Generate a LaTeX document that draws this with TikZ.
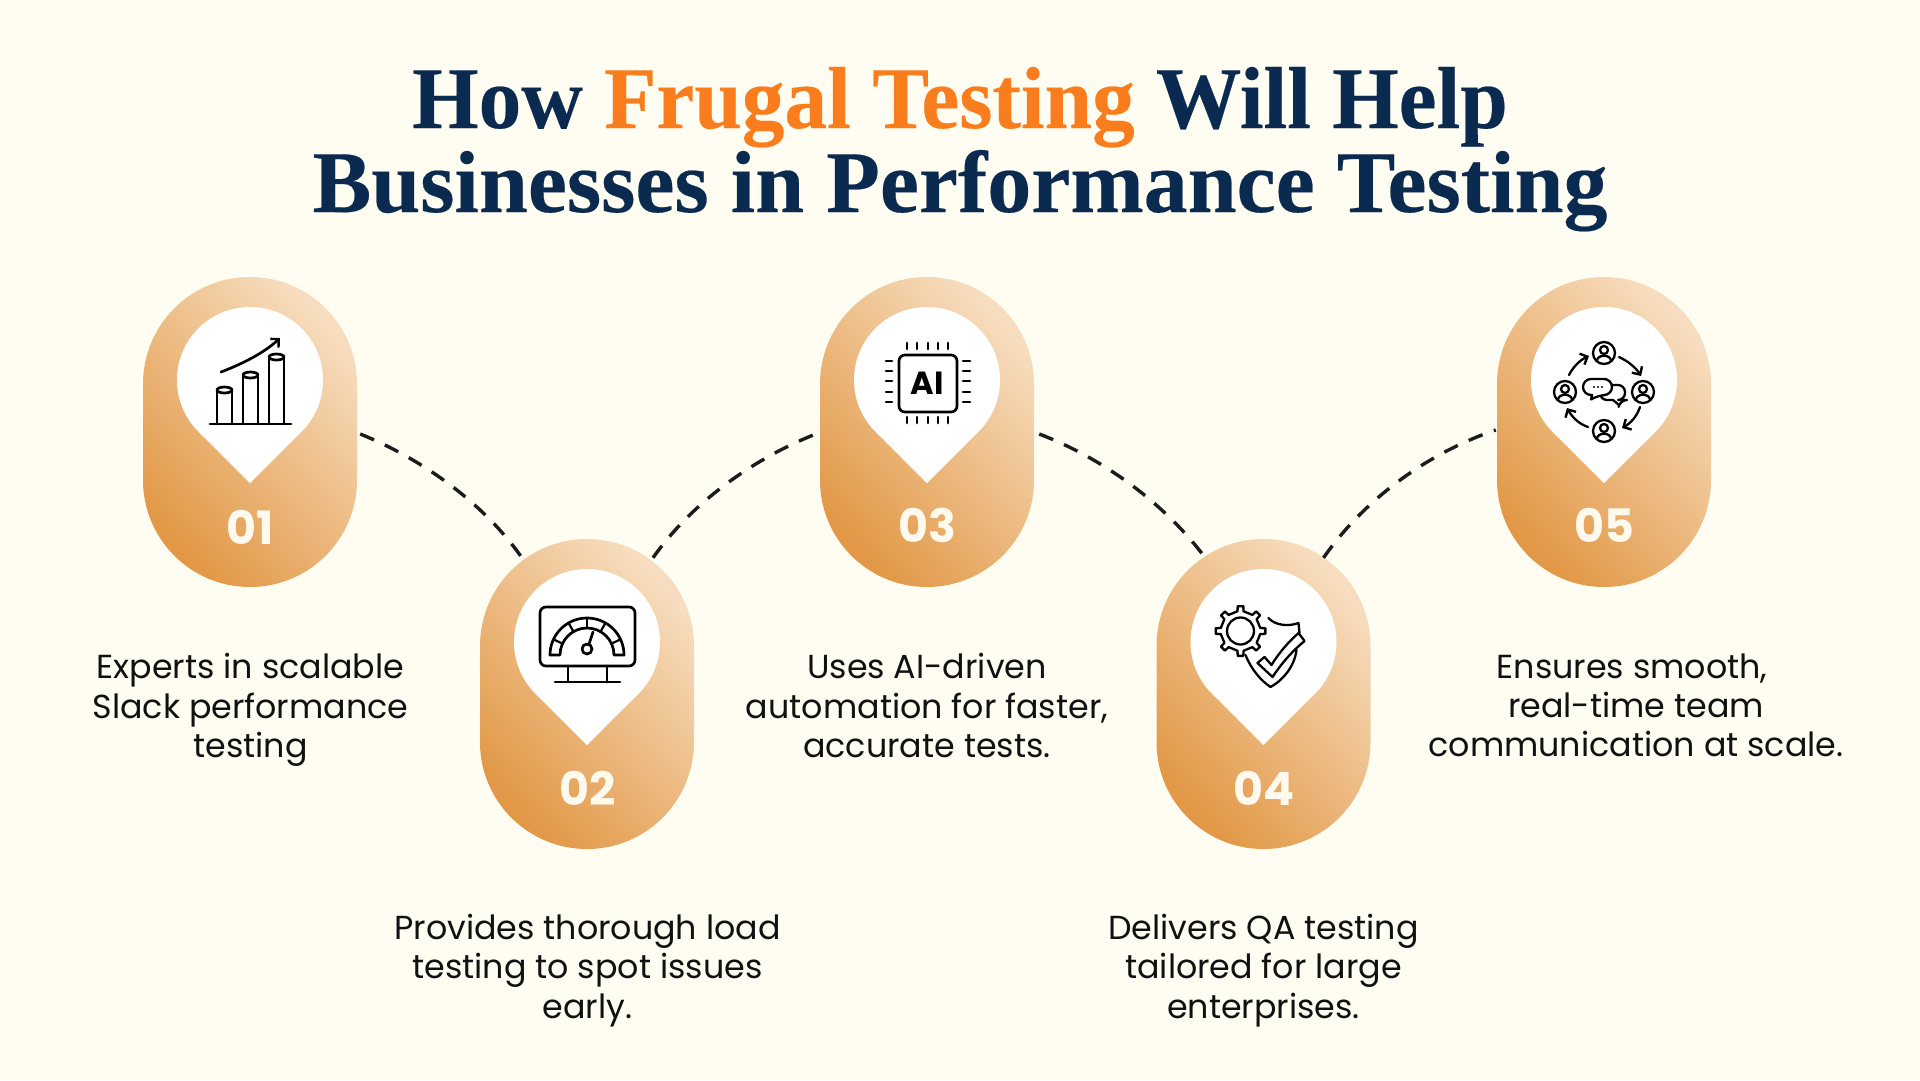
\documentclass[tikz,border=0pt]{standalone}
\usepackage{fontspec}
\setmainfont{Poppins}
\newfontfamily\titlefont[BoldFeatures={FakeBold=0.25}]{Liberation Serif}
\newfontfamily\titlefontA[FakeStretch=0.97,BoldFeatures={FakeBold=0.25}]{Liberation Serif}
\usetikzlibrary{arrows.meta,calc}
\definecolor{bgcol}{HTML}{FFFDF1}
\definecolor{navy}{HTML}{0B2A4F}
\definecolor{orng}{HTML}{F97D1C}
\definecolor{capA}{HTML}{E29846}
\definecolor{capB}{HTML}{F7DDBF}
\definecolor{numcol}{HTML}{FFF9EE}
\definecolor{ink}{HTML}{111111}
\definecolor{dashcol}{HTML}{1C1C1C}
\tikzset{
  x=1pt,y=-1pt,
  capsule/.style={rectangle,rounded corners=106.9pt,minimum width=214pt,minimum height=310pt,inner sep=0pt,
    bottom color=capA,top color=capB,shading angle=-48},
  numlabel/.style={text=numcol,font=\fontsize{46}{46}\selectfont\bfseries,inner sep=0pt},
  bodytext/.style={text=ink,align=center,inner sep=0pt,font=\fontsize{33.3}{39.3}\selectfont},
  linkline/.style={draw=dashcol,line width=3.4pt,dash pattern=on 15pt off 12pt},
  iconline/.style={draw=black,line width=2.7pt,line join=round,line cap=round},
  thinicon/.style={draw=black,line width=2.3pt,line join=round,line cap=round},
  barb/.style={-{Straight Barb[length=6pt,width=12pt,line width=2.4pt]}},
  pics/locpin/.style={code={
    \fill[white] (0,0) circle (73);
    \fill[white] (-51.6,51.6) -- (0,103.2) -- (51.6,51.6) -- cycle;
  }},
  pics/charticon/.style={code={
    \draw[iconline] (-40,44) -- (41,44);
    \foreach \xa/\xb/\yt in {-33/-18/10,-7/8/-5,19/34/-23}{
      \draw[iconline] (\xa,44) -- (\xa,\yt) (\xb,\yt) -- (\xb,44);
      \draw[iconline] ({(\xa+\xb)/2},\yt) ellipse (7.5 and 3);
    }
    \draw[iconline,barb] (-29,-8) .. controls (-8,-16) and (14,-27) .. (30,-42);
  }},
  pics/gaugeicon/.style={code={
    \draw[iconline,rounded corners=6pt] (-47,-35) rectangle (48,24);
    \draw[iconline] (-19,24) -- (-19,40) (20,24) -- (20,40) (-32,40) -- (33,40);
    \draw[iconline] (-37,13) arc (180:360:37) -- (27,13) arc (360:180:27) -- cycle;
    \foreach \a in {205,240,270,300,335}{
      \draw[iconline,line width=2.2pt] (\a:27) ++(0,13) -- ++(\a:10);
    }
    \draw[iconline] (0,7) circle (5);
    \draw[iconline] (2,2) -- (6,-10);
  }},
  pics/chipicon/.style={code={
    \draw[iconline,rounded corners=6pt] (-28,-25) rectangle (30,32);
    \foreach \p in {-20,-10,1,11,21}{
      \draw[iconline] (\p,-37) -- (\p,-31) (\p,37) -- (\p,43);
    }
    \foreach \p in {-19,-9,1,12,22}{
      \draw[iconline] (-41,\p) -- (-35,\p) (36,\p) -- (43,\p);
    }
  }},
  pics/shieldicon/.style={code={
    \begin{scope}[shift={(-23,-11)}]
      \draw[thinicon] ({-8.5}:20) foreach \a in {0,45,...,315}{
        -- ({\a-8.5}:20) -- ({\a-6.5}:25) -- ({\a+6.5}:25) -- ({\a+8.5}:20) -- ({\a+36.5}:20)} -- cycle;
      \draw[thinicon] (0,0) circle (13.5);
    \end{scope}
    \draw[thinicon] (5,-24) .. controls (11,-17) and (24,-15) .. (35,-19) -- (36,-9);
    \draw[thinicon] (-18,13) .. controls (-12,28) and (-2,39) .. (7,45) .. controls (20,38) and (31,24) .. (33,8);
    \draw[thinicon] (-6,21) -- (1,15) -- (8,23) .. controls (16,10) and (25,0) .. (35,-9) -- (41,-1)
      .. controls (29,9) and (19,20) .. (9,35) -- cycle;
  }},
  pics/teamicon/.style={code={
    \foreach \p in {(0,-27),(39,12),(0,51),(-39,12)}{
      \begin{scope}[shift={\p}]
        \draw[thinicon] (0,0) circle (11);
        \draw[thinicon] (0,-3) circle (4);
        \draw[thinicon] (-7,8) .. controls (-7,1) and (7,1) .. (7,8);
      \end{scope}
    }
    \draw[thinicon,barb] (15,-23) .. controls (24,-19) and (32,-12) .. (37,-4);
    \draw[thinicon,barb] (36,27) .. controls (33,36) and (27,43) .. (18,48);
    \draw[thinicon,barb] (-16,47) .. controls (-25,44) and (-32,37) .. (-37,28);
    \draw[thinicon,barb] (-35,-5) .. controls (-31,-13) and (-24,-20) .. (-15,-24);
    \draw[thinicon,fill=white] (8,5) [rounded corners=7pt] -- (21,5) -- (21,20) -- (16,20) [sharp corners] -- (15,25) -- (9,20) [rounded corners=7pt] -- (-4,20) -- (-4,5) -- cycle;
    \draw[thinicon,fill=white] (-6,-1) [rounded corners=8pt] -- (8,-1) -- (8,15) -- (-6,15) [sharp corners] -- (-13,19.5) -- (-12,15) [rounded corners=8pt] -- (-21,15) -- (-21,-1) -- cycle;
    \fill (-10,7) circle (1.1) (-6,7) circle (1.1) (-2,7) circle (1.1);
  }},
}
\begin{document}
\begin{tikzpicture}
\useasboundingbox (0,0) rectangle (1920,1080);
\fill[bgcol] (0,0) rectangle (1920,1080);

\node[anchor=base,inner sep=0pt,font=\titlefontA\fontsize{88}{88}\selectfont\bfseries,text=navy] (titleA) at (960,128)
  {How \textcolor{orng}{Frugal Testing} Will Help};
\node[anchor=base,inner sep=0pt,font=\titlefont\fontsize{88}{88}\selectfont\bfseries,text=navy] (titleB) at (960,212)
  {Businesses in Performance Testing};

\node[capsule] (c1) at (250,432) {};
\node[capsule] (c2) at (587,694) {};
\node[capsule] (c3) at (927,432) {};
\node[capsule] (c4) at (1263.5,694) {};
\node[capsule] (c5) at (1604,432) {};

\draw[linkline] ([shift={(3,2)}]c1.east) .. controls (415,456) and (480,498) .. ([shift={(-65,19)}]c2.north);
\draw[linkline] ([shift={(66,19)}]c2.north) .. controls (695,498) and (760,456) .. ([shift={(-4,2)}]c3.west);
\draw[linkline] ([shift={(5,2)}]c3.east) .. controls (1097,456) and (1160,498) .. ([shift={(-59,18)}]c4.north);
\draw[linkline] ([shift={(60,19)}]c4.north) .. controls (1365,498) and (1430,452) .. ([shift={(-1,-2)}]c5.west);

\pic at (250,380) {locpin};
\pic at (587,642) {locpin};
\pic at (927,380) {locpin};
\pic at (1263.5,642) {locpin};
\pic at (1604,380) {locpin};

\pic at (250,380) {charticon};
\pic at (587,642) {gaugeicon};
\pic at (927,380) {chipicon};
\node[font=\fontsize{32}{32}\selectfont\bfseries,text=black,inner sep=0pt] (ailabel) at (927,383) {AI};
\pic at (1263.5,642) {shieldicon};
\pic at (1604,380) {teamicon};

\node[numlabel] (n1) at (250.5,527) {01};
\node[numlabel] (n2) at (588,788) {02};
\node[numlabel] (n3) at (927,525) {03};
\node[numlabel] (n4) at (1264,788) {04};
\node[numlabel] (n5) at (1604,525) {05};

\node[bodytext] (t1) at (250.5,710) {Experts in scalable\\Slack performance\\testing};
\node[bodytext] (t2) at (587.5,970.5) {Provides thorough load\\testing to spot issues\\early.};
\node[bodytext] (t3) at (927,705.5) {Uses AI-driven\\automation for faster,\\accurate tests.};
\node[bodytext] (t4) at (1263.5,970.5) {Delivers QA testing\\tailored for large\\enterprises.};
\node[bodytext] (t5) at (1636,705.5) {Ensures smooth,\hspace*{8pt}\\real-time team\\communication at scale.};
\end{tikzpicture}
\end{document}
